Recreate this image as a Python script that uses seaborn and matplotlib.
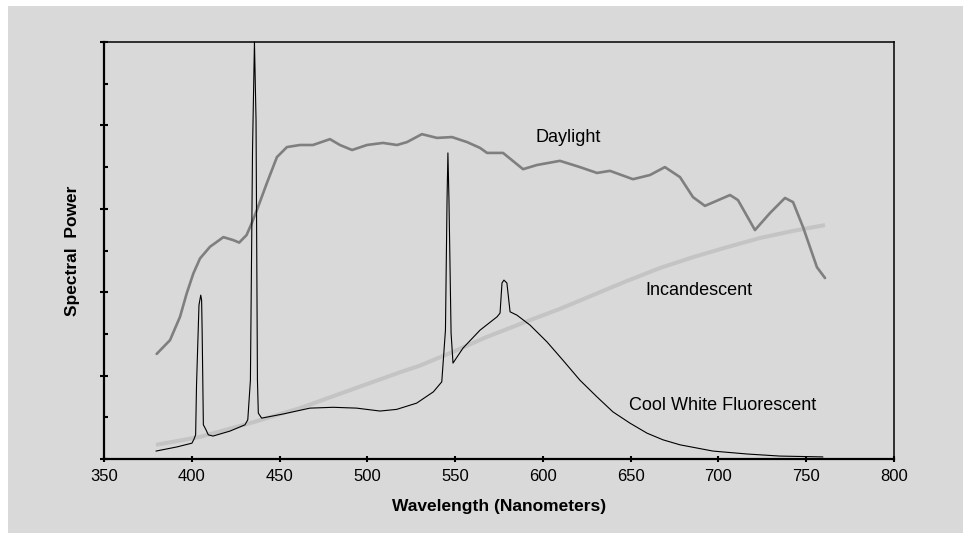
import pandas as pd
import matplotlib
matplotlib.use("Agg")
import matplotlib.pyplot as plt
from matplotlib.patches import Rectangle
from matplotlib.ticker import MultipleLocator
import seaborn as sns

# 日光光谱
daylight_nm = [380.0, 387.6, 393.3, 397.1, 400.9, 404.7, 410.4, 418.0, 423.6, 427.0,
               431.2, 434.1, 437.1, 442.8, 448.5, 454.2, 461.6, 469.0, 478.7, 484.4,
               491.3, 499.8, 508.9, 516.9, 522.6, 531.1, 539.7, 548.2, 556.8, 564.2,
               568.2, 577.3, 588.7, 596.6, 609.7, 621.1, 630.8, 638.2, 651.3, 661.0,
               669.5, 678.1, 685.5, 692.3, 706.6, 711.1, 720.8, 729.4, 737.9, 742.5,
               748.2, 756.1, 760.7]
daylight_pw = [2.52, 2.85, 3.41, 3.97, 4.45, 4.81, 5.09, 5.32, 5.25, 5.19,
               5.37, 5.65, 5.97, 6.62, 7.24, 7.48, 7.53, 7.53, 7.67, 7.53,
               7.41, 7.53, 7.58, 7.53, 7.60, 7.79, 7.70, 7.72, 7.60, 7.46,
               7.34, 7.34, 6.95, 7.05, 7.15, 7.00, 6.86, 6.91, 6.71, 6.81,
               7.00, 6.76, 6.28, 6.07, 6.33, 6.21, 5.49, 5.90, 6.26, 6.16,
               5.56, 4.60, 4.34]

# 白炽灯
incand_nm = [379.6, 404.7, 433.2, 461.6, 490.1, 518.6, 530.0, 548.8, 568.2, 592.7,
             609.7, 628.5, 647.9, 666.7, 685.5, 704.9, 723.7, 742.5, 760.7]
incand_pw = [0.34, 0.53, 0.86, 1.22, 1.65, 2.08, 2.24, 2.57, 2.93, 3.33,
             3.60, 3.93, 4.27, 4.58, 4.84, 5.08, 5.30, 5.47, 5.61]

# 冷白荧光灯
fluor_nm = [379.6, 391.6, 400.1, 401.3, 402.2, 402.7, 404.1, 405.1, 405.6, 405.9,
            406.6, 408.1, 409.4, 412.1, 421.8, 430.3, 431.9, 433.4, 434.6, 435.7,
            436.6, 437.4, 437.9, 439.8, 452.1, 467.3, 480.6, 493.9, 507.2, 516.7,
            528.1, 537.6, 542.4, 544.5, 545.4, 545.9, 546.5, 547.7,
            548.8, 554.5, 564.2, 573.9, 575.6, 576.7, 577.8, 579.5, 581.3, 585.2,
            592.7, 602.3, 611.4, 621.1, 630.8, 639.9, 649.6, 659.3, 668.4, 678.1,
            696.9, 716.3, 735.1, 759.5]
fluor_pw = [0.19, 0.29, 0.38, 0.48, 0.58, 1.77, 3.69, 3.93, 3.81, 3.09,
            0.82, 0.70, 0.58, 0.55, 0.67, 0.82, 0.94, 1.89, 7.41, 10.0,
            8.13, 1.89, 1.10, 0.98, 1.08, 1.22, 1.24, 1.22, 1.15, 1.19,
            1.34, 1.61, 1.85, 3.09, 6.21, 7.34, 6.21, 3.02,
            2.30, 2.66, 3.09, 3.41, 3.50, 4.22, 4.29, 4.22, 3.53, 3.45,
            3.21, 2.81, 2.37, 1.89, 1.49, 1.13, 0.86, 0.62, 0.46, 0.34,
            0.19, 0.12, 0.07, 0.05]

x_ticks = [350, 400, 450, 500, 550, 600, 650, 700, 750, 800]

bg = "#d9d9d9"
sns.set_style("ticks")
plt.rcParams["font.family"] = ["Liberation Sans", "DejaVu Sans"]
plt.rcParams["text.color"] = "black"
plt.rcParams["axes.labelcolor"] = "black"

fig = plt.figure(figsize=(9.63, 5.33), dpi=100, facecolor="white")
fig.patches.append(Rectangle((8 / 963, 0), 1, 1 - 6 / 533, transform=fig.transFigure,
                             facecolor=bg, edgecolor="none", zorder=-10))
ax = fig.add_axes([104 / 963, 1 - 459 / 533, 790 / 963, 417 / 533])
ax.set_facecolor(bg)

df_day = pd.DataFrame({"nm": daylight_nm, "power": daylight_pw})
df_inc = pd.DataFrame({"nm": incand_nm, "power": incand_pw})
df_flu = pd.DataFrame({"nm": fluor_nm, "power": fluor_pw})

sns.lineplot(data=df_inc, x="nm", y="power", ax=ax, color="#c4c4c4", linewidth=2.9,
             errorbar=None, sort=False, solid_capstyle="butt")
sns.lineplot(data=df_day, x="nm", y="power", ax=ax, color="#7f7f7f", linewidth=1.9,
             errorbar=None, sort=False, solid_joinstyle="round")
sns.lineplot(data=df_flu, x="nm", y="power", ax=ax, color="black", linewidth=0.8,
             errorbar=None, sort=False, clip_on=False)

ax.set_xlim(350, 800)
ax.set_ylim(0, 10)
ax.set_xticks(x_ticks)
ax.yaxis.set_major_locator(MultipleLocator(2))
ax.yaxis.set_minor_locator(MultipleLocator(1))
ax.set_yticklabels([])
ax.tick_params(axis="x", direction="inout", length=4, width=1.5, labelsize=12, pad=5,
               colors="black", labelcolor="black")
ax.tick_params(axis="y", which="major", direction="inout", length=6, width=1.5, colors="black")
ax.tick_params(axis="y", which="minor", direction="in", length=3, width=1.5, colors="black")

for side in ["left", "bottom"]:
    ax.spines[side].set_linewidth(1.6)
for side in ["top", "right"]:
    ax.spines[side].set_linewidth(1.1)
for sp in ax.spines.values():
    sp.set_color("black")

ax.set_xlabel("Wavelength (Nanometers)", fontsize=12.5, fontweight="bold", color="black")
ax.set_ylabel("Spectral  Power", fontsize=12.5, fontweight="bold", color="black")
ax.xaxis.set_label_coords(0.5, -0.096)
ax.yaxis.set_label_coords(-0.03, 0.5)

ax.text(614.3, 7.72, "Daylight", fontsize=13, ha="center", va="center", color="black")
ax.text(688.9, 4.05, "Incandescent", fontsize=13, ha="center", va="center", color="black")
ax.text(702.6, 1.29, "Cool White Fluorescent", fontsize=13, ha="center", va="center",
        color="black")

fig.savefig("out.png", dpi=100, facecolor="white")
